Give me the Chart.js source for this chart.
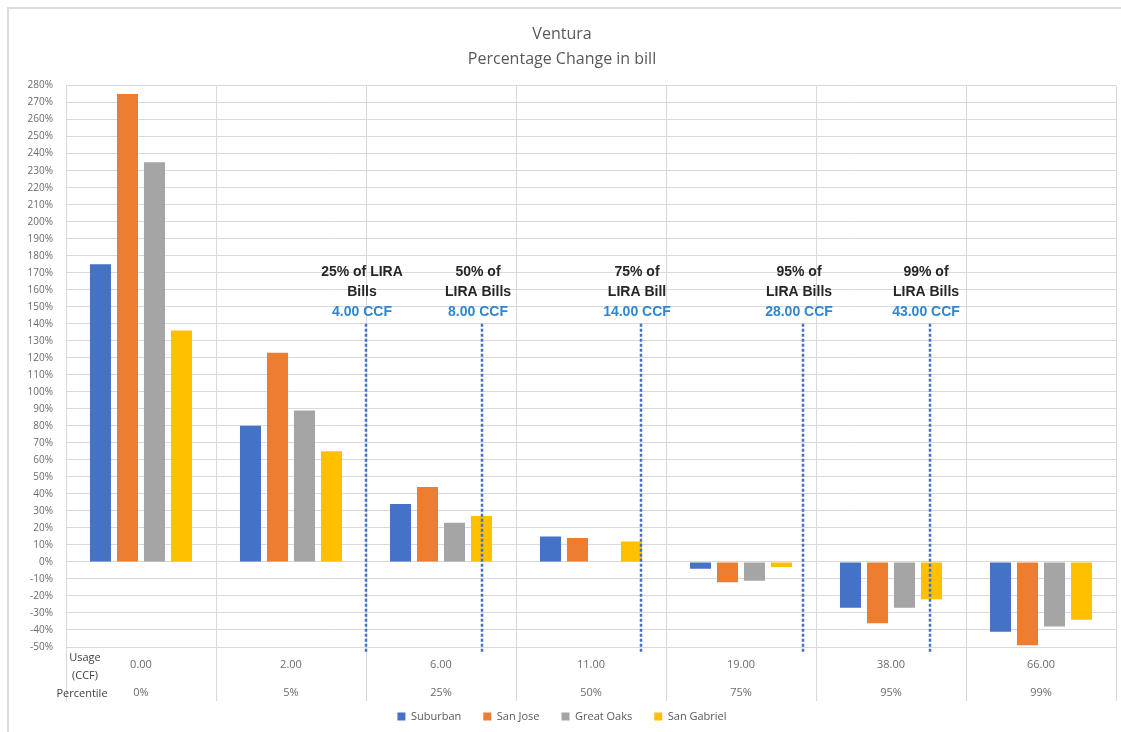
<!DOCTYPE html>
<html>
<head>
<meta charset="utf-8">
<script src="https://cdn.jsdelivr.net/npm/chart.js@4.4.1/dist/chart.umd.min.js"></script>
<style>
  body { margin: 0; background: #fff; }
  #wrap { position: relative; width: 1121px; height: 732px; }
  #frame { position: absolute; left: 7px; top: 7px; width: 1114px; height: 725px;
           border-top: 2px solid #dcdcdc; border-left: 2px solid #dcdcdc; box-sizing: border-box; }
  canvas { position: absolute; left: 0; top: 0; }
</style>
</head>
<body>
<div id="wrap">
  <div id="frame"></div>
  <canvas id="chart" width="1121" height="732"></canvas>
</div>
<script>
// Datos
const usage = ["0.00", "2.00", "6.00", "11.00", "19.00", "38.00", "66.00"];
const percentiles = ["0%", "5%", "25%", "50%", "75%", "95%", "99%"];

const suburban = [175, 80, 34, 15, -4, -27, -41];
const sanJose = [275, 123, 44, 14, -12, -36, -49];
const greatOaks = [235, 89, 23, 0, -11, -27, -38];
const sanGabriel = [136, 65, 27, 12, -3, -22, -34];

// Marcas LIRA (posición sobre el eje de categorías)
const liraText = [["25% of LIRA", "Bills"], ["50% of", "LIRA Bills"], ["75% of", "LIRA Bill"], ["95% of", "LIRA Bills"], ["99% of", "LIRA Bills"]];
const liraCcf = ["4.00 CCF", "8.00 CCF", "14.00 CCF", "28.00 CCF", "43.00 CCF"];
const liraPos = [1.5, 2.27, 3.33, 4.41, 5.26];
const liraTop = 140; // valor del eje Y donde empieza la línea punteada

const FONT = "'Open Sans', 'Liberation Sans', sans-serif";

// Plugin: tabla inferior (Usage / Percentile) y líneas LIRA
const tablePlugin = {
  id: "tablePlugin",
  afterDraw(chart) {
    const ctx = chart.ctx;
    const x = chart.scales.x;
    const y = chart.scales.y;
    const area = chart.chartArea;

    ctx.save();
    // separadores de la tabla
    ctx.strokeStyle = "#d9d9d9";
    ctx.lineWidth = 1;
    for (let i = 0; i <= usage.length; i++) {
      const px = Math.round(x.getPixelForValue(i - 0.5)) + 0.5;
      ctx.beginPath();
      ctx.moveTo(px, area.bottom);
      ctx.lineTo(px, area.bottom + 54);
      ctx.stroke();
    }

    // valores
    ctx.font = "11px " + FONT;
    ctx.fillStyle = "#6b6b6b";
    ctx.textAlign = "center";
    ctx.textBaseline = "middle";
    usage.forEach((u, i) => {
      const px = x.getPixelForValue(i);
      ctx.fillText(u, px, area.bottom + 18);
      ctx.fillText(percentiles[i], px, area.bottom + 46);
    });

    // encabezados de fila
    ctx.fillStyle = "#404040";
    ctx.fillText("Usage", 85, area.bottom + 11);
    ctx.fillText("(CCF)", 85, area.bottom + 29);
    ctx.fillText("Percentile", 82, area.bottom + 47);

    // líneas LIRA
    liraPos.forEach((p, i) => {
      const px = Math.round(x.getPixelForValue(p));
      const top = y.getPixelForValue(liraTop);
      ctx.strokeStyle = "#4472C4";
      ctx.lineWidth = 2.5;
      ctx.setLineDash([3, 2]);
      ctx.beginPath();
      ctx.moveTo(px, top);
      ctx.lineTo(px, area.bottom + 6);
      ctx.stroke();
      ctx.setLineDash([]);

      ctx.font = "bold 14px 'Liberation Sans', Arial, sans-serif";
      ctx.fillStyle = "#262626";
      ctx.fillText(liraText[i][0], px - 4, top - 52);
      ctx.fillText(liraText[i][1], px - 4, top - 32);
      ctx.fillStyle = "#2E86D1";
      ctx.fillText(liraCcf[i], px - 4, top - 12);
    });
    ctx.restore();
  },
};

const ctx = document.getElementById("chart").getContext("2d");
const chart = new Chart(ctx, {
  type: "bar",
  data: {
    labels: usage,
    datasets: [
      { label: "Suburban", data: suburban, backgroundColor: "#4472C4" },
      { label: "San Jose", data: sanJose, backgroundColor: "#ED7D31" },
      { label: "Great Oaks", data: greatOaks, backgroundColor: "#A5A5A5" },
      { label: "San Gabriel", data: sanGabriel, backgroundColor: "#FFC000" },
    ],
  },
  options: {
    responsive: false,
    animation: false,
    devicePixelRatio: 1,
    categoryPercentage: 0.72,
    barPercentage: 0.78,
    layout: { padding: { left: 8, right: 5, top: 0, bottom: 0 } },
    plugins: {
      title: {
        display: true,
        text: ["Ventura", "Percentage Change in bill"],
        color: "#595959",
        font: { family: FONT, size: 16, weight: "normal", lineHeight: 1.55 },
        padding: { top: 22, bottom: 14 },
      },
      legend: {
        position: "bottom",
        labels: {
          boxWidth: 8,
          boxHeight: 8,
          color: "#595959",
          font: { family: FONT, size: 11 },
          padding: 22,
        },
      },
      tooltip: { enabled: false },
    },
    scales: {
      x: {
        grid: { color: "#d9d9d9", offset: true, drawTicks: false },
        border: { color: "#d9d9d9" },
        ticks: { display: false },
        afterFit(scale) {
          scale.height = 42;
        },
      },
      y: {
        min: -50,
        max: 280,
        grid: { color: "#d9d9d9", drawTicks: false },
        border: { display: false },
        ticks: {
          stepSize: 10,
          autoSkip: false,
          padding: 13,
          color: "#6b6b6b",
          font: { family: FONT, size: 10 },
          callback: (v) => v + "%",
        },
        afterFit(scale) {
          scale.width = 58;
        },
      },
    },
  },
  plugins: [tablePlugin],
});
</script>
</body>
</html>
